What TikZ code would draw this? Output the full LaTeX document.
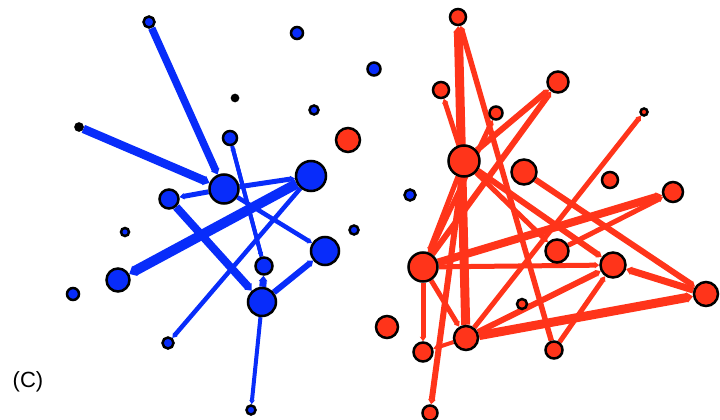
\documentclass[tikz,border=0pt]{standalone}
\usepackage{fontspec}
\setsansfont{Liberation Sans}
\usepackage{tikz}
\usetikzlibrary{arrows.meta,backgrounds}
\usepackage{xcolor}
\definecolor{netblue}{RGB}{8,44,250}
\definecolor{netred}{RGB}{255,52,26}

\begin{document}
\begin{tikzpicture}[
      x=1pt,y=-1pt,
      bnode/.style={circle,draw=black,line width=2.5pt,fill=netblue,inner sep=0pt},
      rnode/.style={circle,draw=black,line width=2.5pt,fill=netred,inner sep=0pt},
      barr/.style={-{Triangle[length=2.5pt 0.4,width=1.2pt 1]},netblue},
      rarr/.style={-{Triangle[length=2.5pt 0.4,width=1.2pt 1]},netred},
    ]
    \useasboundingbox (0,0) rectangle (720,420);

    % blue cluster
    \node[bnode,minimum size=11pt] (b1) at (149,22) {};
    \node[bnode,minimum size=12pt] (b2) at (297,33) {};
    \node[bnode,minimum size=13pt] (b3) at (374,69) {};
    \node[bnode,minimum size=6pt,fill=black] (b4) at (235,98) {};
    \node[bnode,minimum size=9pt] (b5) at (314,110) {};
    \node[bnode,minimum size=7pt,fill=black] (b6) at (79,127) {};
    \node[bnode,minimum size=14pt] (b7) at (230,138) {};
    \node[bnode,minimum size=29pt] (b8) at (224,189) {};
    \node[bnode,minimum size=30pt] (b9) at (311,176) {};
    \node[bnode,minimum size=19pt] (b10) at (169,199) {};
    \node[bnode,minimum size=8pt] (b11) at (125,232) {};
    \node[bnode,minimum size=9pt] (b12) at (354,230) {};
    \node[bnode,minimum size=28pt] (b13) at (325,251) {};
    \node[bnode,minimum size=17pt] (b14) at (264,266) {};
    \node[bnode,minimum size=23pt] (b15) at (118,280) {};
    \node[bnode,minimum size=12pt] (b16) at (73,294) {};
    \node[bnode,minimum size=28pt] (b17) at (262,302) {};
    \node[bnode,minimum size=11pt] (b18) at (168,343) {};
    \node[bnode,minimum size=9pt] (b19) at (251,410) {};
    \node[bnode,minimum size=11pt] (b20) at (410,195) {};

    % red cluster
    \node[rnode,minimum size=24pt] (r0) at (348,140) {};
    \node[rnode,minimum size=22pt] (r00) at (387,327) {};
    \node[rnode,minimum size=16pt] (r1) at (458,17) {};
    \node[rnode,minimum size=16pt] (r2) at (441,90) {};
    \node[rnode,minimum size=21pt] (r3) at (558,82) {};
    \node[rnode,minimum size=13pt] (r4) at (496,113) {};
    \node[rnode,minimum size=7pt] (r5) at (644,112) {};
    \node[rnode,minimum size=31pt] (r6) at (464,161) {};
    \node[rnode,minimum size=25pt] (r7) at (524,172) {};
    \node[rnode,minimum size=16pt] (r8) at (610,180) {};
    \node[rnode,minimum size=20pt] (r9) at (673,192) {};
    \node[rnode,minimum size=23pt] (r10) at (557,251) {};
    \node[rnode,minimum size=29pt] (r11) at (423,267) {};
    \node[rnode,minimum size=25pt] (r12) at (613,265) {};
    \node[rnode,minimum size=24pt] (r13) at (706,294) {};
    \node[rnode,minimum size=10pt] (r14) at (522,304) {};
    \node[rnode,minimum size=19pt] (r15) at (423,352) {};
    \node[rnode,minimum size=24pt] (r16) at (466,338) {};
    \node[rnode,minimum size=17pt] (r17) at (554,350) {};
    \node[rnode,minimum size=15pt] (r18) at (430,413) {};

    % label
    \node[font=\sffamily\fontsize{22}{26}\selectfont] (lab) at (28,382) {(C)};

    \begin{scope}[on background layer]
    % blue edges
    \draw[barr,line width=7.5pt] (b1)--(b8);
    \draw[barr,line width=8.5pt] (b6)--(b8);
    \draw[barr,line width=4pt] (b14)--(b7);
    \draw[barr,line width=4pt] (b7)--(b14);
    \draw[barr,line width=5pt] (b8)--(b9);
    \draw[barr,line width=10pt] (b9)--(b15);
    \draw[barr,line width=5pt] (b8)--(b10);
    \draw[barr,line width=8pt] (b10)--(b17);
    \draw[barr,line width=4.5pt] (b8)--(b13);
    \draw[barr,line width=4.5pt] (b9)--(b18);
    \draw[barr,line width=6pt] (b17)--(b13);
    \draw[barr,line width=7pt] (b17)--(b14);
    \draw[barr,line width=4pt] (b17)--(b19);

    % red edges
    \draw[rarr,line width=9pt] (r16)--(r1);
    \draw[rarr,line width=5.5pt] (r17)--(r1);
    \draw[rarr,line width=5pt] (r6)--(r2);
    \draw[rarr,line width=6pt] (r6)--(r3);
    \draw[rarr,line width=6pt] (r11)--(r3);
    \draw[rarr,line width=5pt] (r11)--(r4);
    \draw[rarr,line width=5pt] (r16)--(r5);
    \draw[rarr,line width=6pt] (r7)--(r13);
    \draw[rarr,line width=8pt] (r11)--(r9);
    \draw[rarr,line width=5pt] (r10)--(r9);
    \draw[rarr,line width=6pt] (r6)--(r12);
    \draw[rarr,line width=5pt] (r11)--(r12);
    \draw[rarr,line width=6pt] (r16)--(r12);
    \draw[rarr,line width=5pt] (r17)--(r12);
    \draw[rarr,line width=7pt] (r13)--(r12);
    \draw[rarr,line width=9pt] (r16)--(r13);
    \draw[rarr,line width=5pt] (r6)--(r11);
    \draw[rarr,line width=5pt] (r11)--(r15);
    \draw[rarr,line width=5pt] (r11)--(r16);
    \draw[rarr,line width=6pt] (r6)--(r18);
    \draw[rarr,line width=5pt] (r6)--(r10);
    \draw[rarr,line width=4pt] (r16)--(r15);
    \end{scope}
  \end{tikzpicture}
\end{document}
